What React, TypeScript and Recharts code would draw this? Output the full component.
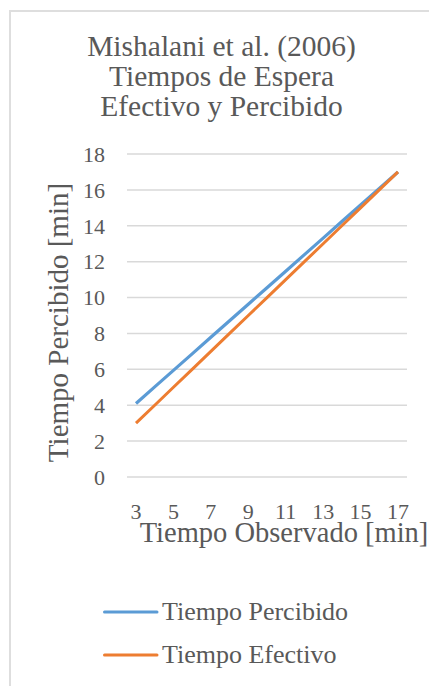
import React from "react";
import { LineChart, Line, XAxis, YAxis, CartesianGrid, Legend } from "recharts";

const titleLines = ["Mishalani et al. (2006)", "Tiempos de Espera", "Efectivo y Percibido"];
const observed = [3, 4, 5, 6, 7, 8, 9, 10, 11, 12, 13, 14, 15, 16, 17];
const perceived = [4.1, 5.02, 5.94, 6.86, 7.79, 8.71, 9.63, 10.55, 11.47, 12.39, 13.31, 14.24, 15.16, 16.08, 17.0];
const effective = [3, 4, 5, 6, 7, 8, 9, 10, 11, 12, 13, 14, 15, 16, 17];
const yTicks = [0, 2, 4, 6, 8, 10, 12, 14, 16, 18];
const seriesOrder = ["Tiempo Percibido", "Tiempo Efectivo"];
const xTitle = "Tiempo Observado [min]";
const yTitle = "Tiempo Percibido [min]";

const data = observed.map((x, i) => ({
  x: String(x),
  perceived: perceived[i],
  effective: effective[i],
}));

const FONT = "'Liberation Serif', 'DejaVu Serif', serif";
const TEXT = "#595959";

const LegendContent = (props: any) => {
  const payload = [...(props.payload || [])].sort(
    (a: any, b: any) => seriesOrder.indexOf(a.value) - seriesOrder.indexOf(b.value)
  );
  return (
    <div style={{ fontFamily: FONT, fontSize: 26, color: TEXT }}>
      {payload.map((p: any) => (
        <div key={p.value} style={{ display: "flex", alignItems: "center", height: 43, lineHeight: "43px" }}>
          <svg width={56} height={10} style={{ display: "block" }}>
            <line x1={1.5} y1={5} x2={54} y2={5} stroke={p.color} strokeWidth={3} strokeLinecap="round" />
          </svg>
          <span style={{ marginLeft: 3 }}>{p.value}</span>
        </div>
      ))}
    </div>
  );
};

export default function App() {
  return (
    <div style={{ position: "fixed", left: 0, top: 0, width: 429, height: 686, overflow: "hidden", background: "#fff" }}>
      <div
        style={{
          position: "absolute",
          left: 9,
          top: 10,
          width: 440,
          height: 700,
          borderLeft: "2px solid #dedede",
          borderTop: "2px solid #dedede",
        }}
      />
      <div
        style={{
          position: "absolute",
          left: 12,
          top: 31,
          width: 419,
          textAlign: "center",
          fontFamily: FONT,
          fontSize: 29.5,
          color: TEXT,
        }}
      >
        {titleLines.map((t) => (
          <div key={t} style={{ lineHeight: "30px", height: 30, whiteSpace: "nowrap" }}>{t}</div>
        ))}
      </div>
      <div style={{ position: "absolute", left: 10, top: 11 }}>
        <LineChart width={419} height={675} data={data} margin={{ top: 143, right: 22, bottom: 179, left: 0 }}>
          <CartesianGrid vertical={false} stroke="#d9d9d9" strokeWidth={1.5} />
          <XAxis
            dataKey="x"
            interval={1}
            padding={{ left: 9, right: 9 }}
            axisLine={false}
            tickLine={false}
            tickSize={24}
            tickMargin={2}
            height={30}
            tick={{ fontFamily: FONT, fontSize: 22, fill: TEXT }}
            label={{
              content: (p: any) => {
                const vb = p.viewBox;
                return (
                  <text
                    x={vb.x + vb.width / 2 + 17}
                    y={vb.y + 65}
                    textAnchor="middle"
                    fontFamily={FONT}
                    fontSize={28.5}
                    fill={TEXT}
                  >
                    {xTitle}
                  </text>
                );
              },
            }}
          />
          <YAxis
            width={117}
            domain={[0, 18]}
            ticks={yTicks}
            interval={0}
            axisLine={false}
            tickLine={false}
            tickSize={20}
            tickMargin={2}
            tick={{ fontFamily: FONT, fontSize: 22, fill: TEXT }}
            label={{
              content: (p: any) => {
                const vb = p.viewBox;
                const cx = vb.x + 48;
                const cy = vb.y + vb.height / 2 + 7;
                return (
                  <text
                    x={cx}
                    y={cy}
                    transform={`rotate(-90, ${cx}, ${cy})`}
                    textAnchor="middle"
                    dominantBaseline="central"
                    fontFamily={FONT}
                    fontSize={29}
                    fill={TEXT}
                  >
                    {yTitle}
                  </text>
                );
              },
            }}
          />
          <Legend
            layout="vertical"
            align="center"
            verticalAlign="middle"
            content={LegendContent}
            wrapperStyle={{ top: 579, left: 93, width: "auto" }}
          />
          <Line
            type="linear"
            dataKey="perceived"
            name={seriesOrder[0]}
            stroke="#5b9bd5"
            strokeWidth={3.2}
            dot={false}
            isAnimationActive={false}
          />
          <Line
            type="linear"
            dataKey="effective"
            name={seriesOrder[1]}
            stroke="#ed7d31"
            strokeWidth={3}
            dot={false}
            isAnimationActive={false}
          />
        </LineChart>
      </div>
    </div>
  );
}
